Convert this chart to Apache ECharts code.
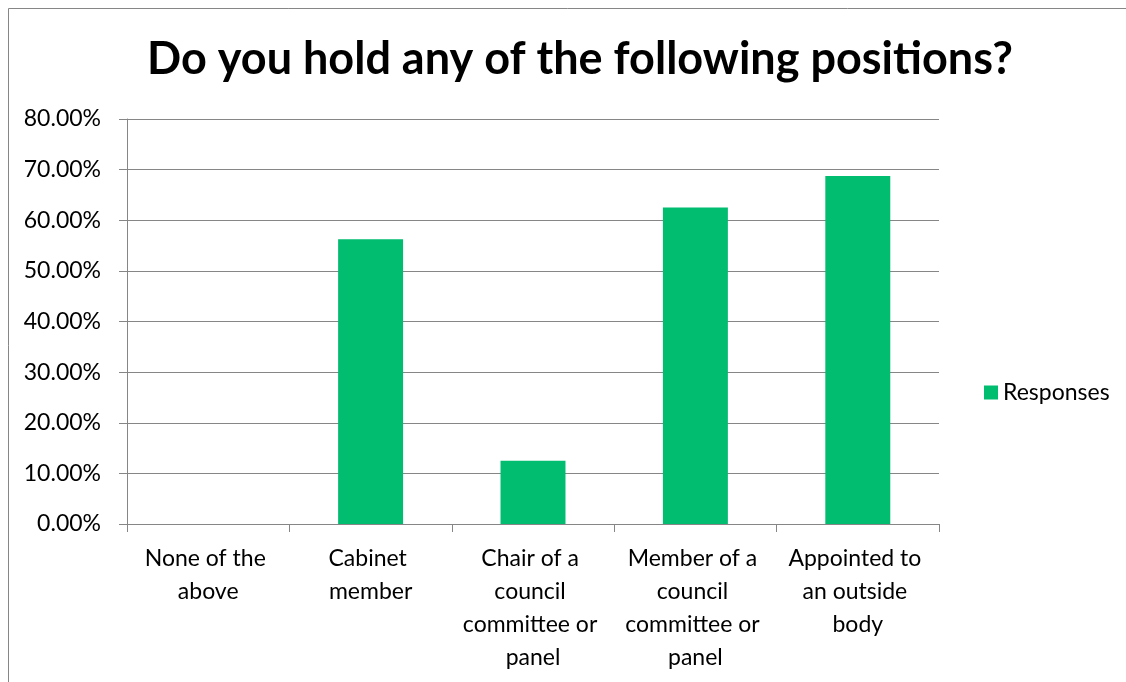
<!DOCTYPE html>
<html>
<head>
<meta charset="utf-8">
<script src="https://cdn.jsdelivr.net/npm/echarts@6/dist/echarts.min.js"></script>
<style>
  html, body { margin: 0; padding: 0; background: #fff; }
  #main { width: 1126px; height: 682px; }
</style>
</head>
<body>
<div id="main"></div>
<script>
// 数据
var categories = [ 'None of the above', 'Cabinet member', 'Chair of a council committee or panel', 'Member of a council committee or panel', 'Appointed to an outside body' ];
var responses = [ 0, 0.5625, 0.125, 0.625, 0.6875 ];

var myChart = echarts.init( document.getElementById( 'main' ) );
var fontFamily = 'Lato, "Open Sans", sans-serif';

var option = {
    backgroundColor: '#fff',
    animation: false,
    title: {
        text: 'Do you hold any of the following positions?',
        left: 575,
        textAlign: 'center',
        top: 32,
        textStyle: { fontFamily: fontFamily, fontSize: 45, fontWeight: 'bold', color: '#000' }
    },
    graphic: [ {
        type: 'rect',
        shape: { x: 8.5, y: 8.5, width: 1130, height: 700 },
        style: { fill: 'none', stroke: '#868686', lineWidth: 1 }
    } ],
    legend: {
        data: [ { name: 'Responses', icon: 'rect' } ],
        left: 979,
        top: 376,
        itemWidth: 14,
        itemHeight: 14,
        itemGap: 8,
        textStyle: { fontFamily: fontFamily, fontSize: 23, color: '#000' }
    },
    grid: { left: 127, right: 187, top: 119, bottom: 158 },
    xAxis: {
        type: 'category',
        data: categories,
        axisLine: { lineStyle: { color: '#868686' } },
        axisTick: { show: true, length: 8, lineStyle: { color: '#868686' } },
        axisLabel: {
            interval: 0,
            margin: 18,
            width: 145,
            overflow: 'break',
            lineHeight: 33,
            fontFamily: fontFamily,
            fontSize: 23,
            color: '#000'
        }
    },
    yAxis: {
        type: 'value',
        min: 0,
        max: 0.8,
        interval: 0.1,
        axisLine: { show: true, lineStyle: { color: '#868686' } },
        axisTick: { show: true, length: 8, lineStyle: { color: '#868686' } },
        splitLine: { lineStyle: { color: '#868686' } },
        axisLabel: {
            margin: 26,
            fontFamily: fontFamily,
            fontSize: 23,
            color: '#000',
            formatter: function ( v ) { return ( v * 100 ).toFixed( 2 ) + '%'; }
        }
    },
    series: [ {
        name: 'Responses',
        type: 'bar',
        data: responses,
        barWidth: '40%',
        itemStyle: { color: '#00BD70' }
    } ]
};

myChart.setOption( option );
</script>
</body>
</html>
